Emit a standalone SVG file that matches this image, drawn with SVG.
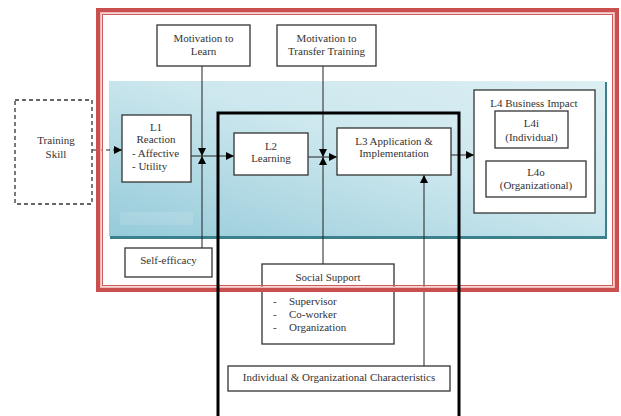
<svg xmlns="http://www.w3.org/2000/svg" width="621" height="416" viewBox="0 0 621 416">
<style>
text{font-size:11px;fill:#333}
.box{fill:#fff;stroke:#333;stroke-width:1.3}
.c{text-anchor:middle}
.ln{stroke:#222;stroke-width:1;fill:none}
</style>
<defs>
<linearGradient id="bg" x1="0" y1="1" x2="1" y2="0">
<stop offset="0" stop-color="#95cbd9"/>
<stop offset="0.55" stop-color="#cce7ee"/>
<stop offset="1" stop-color="#dceff3"/>
</linearGradient>
<marker id="ah" viewBox="0 0 10 10" refX="10" refY="5" markerWidth="8" markerHeight="8" markerUnits="userSpaceOnUse" orient="auto">
<path d="M0,0 L10,5 L0,10 z" fill="#000"/>
</marker>
</defs>
<rect width="621" height="416" fill="#fff"/>
<g id="panel">
<rect x="110" y="82" width="497" height="157" fill="#3c7f8d"/>
<rect x="109" y="81" width="496" height="155" fill="url(#bg)"/>
<rect x="120" y="212" width="73" height="13" fill="#fff" opacity="0.12"/>
</g>
<g id="connectors">
<line class="ln" x1="92" y1="150" x2="122" y2="150" stroke-dasharray="4,3" marker-end="url(#ah)"/>
<line class="ln" x1="191" y1="156" x2="234" y2="156" marker-end="url(#ah)"/>
<line class="ln" x1="202" y1="66" x2="202" y2="156" marker-end="url(#ah)"/>
<line class="ln" x1="202" y1="248" x2="202" y2="156" marker-end="url(#ah)"/>
<line class="ln" x1="308" y1="157" x2="337" y2="157" marker-end="url(#ah)"/>
<line class="ln" x1="323" y1="66" x2="323" y2="157" marker-end="url(#ah)"/>
<line class="ln" x1="323" y1="264" x2="323" y2="157" marker-end="url(#ah)"/>
<line class="ln" x1="451" y1="155" x2="474" y2="155" marker-end="url(#ah)"/>
<line class="ln" x1="424" y1="366" x2="424" y2="175" marker-end="url(#ah)"/>
</g>
<g id="nodes" font-family="'Liberation Serif', 'DejaVu Serif', serif">
<g id="motivation-learn">
<rect class="box" x="157" y="25" width="93" height="41"/>
<text class="c" x="203.5" y="42">Motivation to</text>
<text class="c" x="203.5" y="55">Learn</text>
</g>
<g id="motivation-transfer">
<rect class="box" x="277" y="25" width="99" height="41"/>
<text class="c" x="326.5" y="42">Motivation to</text>
<text class="c" x="326.5" y="55">Transfer Training</text>
</g>
<g id="training-skill">
<rect x="15" y="100" width="77" height="104" fill="#fff" stroke="#333" stroke-width="1.3" stroke-dasharray="4,3"/>
<text class="c" x="56" y="144">Training</text>
<text class="c" x="56" y="158">Skill</text>
</g>
<g id="l1">
<rect class="box" x="122" y="115" width="69" height="67"/>
<text class="c" x="156" y="131">L1</text>
<text class="c" x="156" y="143">Reaction</text>
<text x="132" y="157">- Affective</text>
<text x="132" y="170">- Utility</text>
</g>
<g id="l2">
<rect class="box" x="234" y="133" width="74" height="42"/>
<text class="c" x="271" y="150">L2</text>
<text class="c" x="271" y="162">Learning</text>
</g>
<g id="l3">
<rect class="box" x="337" y="128" width="114" height="47"/>
<text class="c" x="394" y="145">L3 Application &amp;</text>
<text class="c" x="394" y="157">Implementation</text>
</g>
<g id="l4">
<rect class="box" x="474" y="90" width="121" height="123"/>
<text class="c" x="534" y="107">L4 Business Impact</text>
</g>
<g id="l4i">
<rect class="box" x="495" y="111" width="73" height="37"/>
<text class="c" x="531.5" y="127">L4i</text>
<text class="c" x="531.5" y="141">(Individual)</text>
</g>
<g id="l4o">
<rect class="box" x="486" y="161" width="100" height="36"/>
<text class="c" x="536" y="176">L4o</text>
<text class="c" x="536" y="189">(Organizational)</text>
</g>
<g id="self-efficacy">
<rect class="box" x="125" y="248" width="87" height="29"/>
<text class="c" x="168.5" y="264">Self-efficacy</text>
</g>
<g id="social-support">
<rect class="box" x="262" y="264" width="132" height="80"/>
<text class="c" x="328" y="281">Social Support</text>
<text x="273" y="305">-</text><text x="289" y="305">Supervisor</text>
<text x="273" y="318">-</text><text x="289" y="318">Co-worker</text>
<text x="273" y="331">-</text><text x="289" y="331">Organization</text>
</g>
<g id="characteristics">
<rect class="box" x="228" y="366" width="222" height="25"/>
<text class="c" x="339" y="381">Individual &amp; Organizational Characteristics</text>
</g>
</g>
<g id="red-frame" fill="none">
<rect x="98" y="10" width="519" height="280" stroke="#c9504f" stroke-width="4"/>
<rect x="100.75" y="12.75" width="513.5" height="274.5" stroke="#eeb8b7" stroke-width="1.5"/>
<rect x="102.5" y="14.5" width="510" height="271" stroke="#cc5a59" stroke-width="1"/>
</g>
<g id="black-frame">
<path d="M218,416 V113 H459 V416" fill="none" stroke="#000" stroke-width="3"/>
</g>
</svg>
